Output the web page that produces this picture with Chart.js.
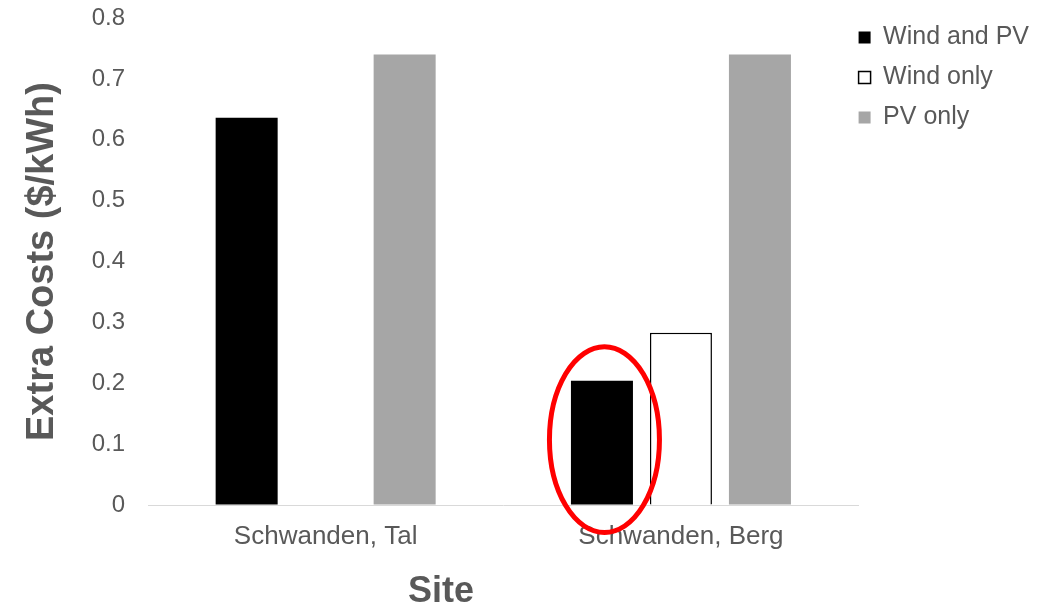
<!DOCTYPE html>
<html>
<head>
<meta charset="utf-8">
<script src="https://cdn.jsdelivr.net/npm/chart.js@4.4.1/dist/chart.umd.min.js"></script>
<style>
  html, body { margin: 0; padding: 0; background: #ffffff; }
  #wrap { width: 1055px; height: 610px; position: relative; }
</style>
</head>
<body>
<div id="wrap"><canvas id="c"></canvas></div>
<script>
const categories = ['Schwanden, Tal', 'Schwanden, Berg'];
const windAndPV = [0.636, 0.204];
const windOnly = [null, 0.283];
const pvOnly = [0.74, 0.74];
const yTickLabels = ['0', '0.1', '0.2', '0.3', '0.4', '0.5', '0.6', '0.7', '0.8'];
const seriesNames = ['Wind and PV', 'Wind only', 'PV only'];
const yTitle = 'Extra Costs ($/kWh)';
const xTitle = 'Site';

const TEXT = '#595959';
const FONT = "'Liberation Sans', Arial, sans-serif";
Chart.defaults.font.family = FONT;
Chart.defaults.color = TEXT;

const layoutTweaks = {
  id: 'layoutTweaks',
  afterLayout(chart) {
    const lg = chart.legend;
    const dx = (chart.chartArea.right - 15) - lg.left;
    const dy = 10 - lg.top;
    lg.left += dx; lg.right += dx;
    lg.top += dy; lg.bottom += dy;
  }
};

const annotations = {
  id: 'annotations',
  afterDraw(chart) {
    const ctx = chart.ctx;
    const ca = chart.chartArea;
    ctx.save();
    ctx.font = "bold 36px " + FONT;
    ctx.fillStyle = TEXT;
    ctx.textAlign = 'center';
    ctx.textBaseline = 'middle';
    ctx.fillText(xTitle, ca.left + 293, 592);
    ctx.restore();
    const bar = chart.getDatasetMeta(0).data[1];
    if (bar) {
      const p = bar.getProps(['x', 'y', 'base', 'width'], true);
      const cx = p.x + 2.5;
      const cy = (p.y + p.base) / 2 - 3;
      const rx = p.width / 2 + 24;
      const ry = (p.base - p.y) / 2 + 31;
      ctx.save();
      ctx.beginPath();
      ctx.ellipse(cx, cy, rx, ry, 0, 0, Math.PI * 2);
      ctx.strokeStyle = '#ff0000';
      ctx.lineWidth = 5;
      ctx.stroke();
      ctx.restore();
    }
  }
};

new Chart(document.getElementById('c'), {
  type: 'bar',
  data: {
    labels: categories,
    datasets: [
      { label: seriesNames[0], data: windAndPV, backgroundColor: '#000000', borderColor: '#000000', borderWidth: 0 },
      { label: seriesNames[1], data: windOnly, backgroundColor: '#ffffff', borderColor: '#000000', borderWidth: 1.5 },
      { label: seriesNames[2], data: pvOnly, backgroundColor: '#a6a6a6', borderColor: '#a6a6a6', borderWidth: 0 }
    ]
  },
  options: {
    responsive: true,
    maintainAspectRatio: false,
    animation: false,
    datasets: { bar: { categoryPercentage: 0.667, barPercentage: 0.785 } },
    layout: { padding: { top: 18, right: 1, bottom: 0, left: 0 } },
    plugins: {
      legend: {
        position: 'right',
        align: 'start',
        labels: {
          boxWidth: 12,
          boxHeight: 12,
          padding: 15,
          color: TEXT,
          font: { size: 25, family: FONT }
        }
      },
      tooltip: { enabled: false }
    },
    scales: {
      x: {
        grid: { display: false, drawTicks: false },
        border: { display: true, color: '#d9d9d9', width: 1 },
        ticks: { color: TEXT, font: { size: 26, family: FONT }, padding: 16, maxRotation: 0 },
        afterFit(scale) { scale.height = 105; }
      },
      y: {
        min: 0,
        max: 0.8,
        grid: { display: true, drawOnChartArea: false, drawTicks: true, tickLength: 23, color: 'rgba(0,0,0,0)' },
        border: { display: false },
        ticks: {
          stepSize: 0.1,
          color: TEXT,
          padding: 0,
          font: { size: 24, family: FONT },
          callback: (v, i) => yTickLabels[i]
        },
        title: {
          display: true,
          text: yTitle,
          color: TEXT,
          font: { size: 38, weight: 'bold', family: FONT },
          padding: { top: 20, bottom: 0 }
        },
        afterFit(scale) { scale.width = 148; }
      }
    }
  },
  plugins: [layoutTweaks, annotations]
});
</script>
</body>
</html>
